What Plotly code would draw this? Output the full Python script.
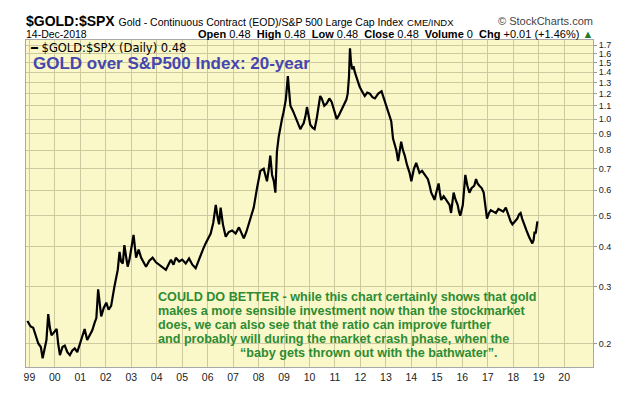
import plotly.graph_objects as go
import math

# ---- data ----
years = [
    1998.92, 1999.05, 1999.15, 1999.25, 1999.35, 1999.45, 1999.52, 1999.60, 1999.67, 1999.74,
    1999.80, 1999.87, 1999.97, 2000.07, 2000.13, 2000.20, 2000.30, 2000.39, 2000.49, 2000.59,
    2000.68, 2000.78, 2000.88, 2000.98, 2001.08, 2001.17, 2001.27, 2001.37, 2001.47, 2001.56,
    2001.63, 2001.70, 2001.76, 2001.82, 2001.92, 2002.02, 2002.11, 2002.21, 2002.34, 2002.41,
    2002.47, 2002.54, 2002.60, 2002.67, 2002.73, 2002.80, 2002.86, 2002.93, 2003.00, 2003.09,
    2003.19, 2003.29, 2003.39, 2003.48, 2003.58, 2003.71, 2003.84, 2003.97, 2004.10, 2004.23,
    2004.36, 2004.46, 2004.56, 2004.66, 2004.75, 2004.88, 2005.00, 2005.14, 2005.27, 2005.40,
    2005.53, 2005.63, 2005.73, 2005.83, 2005.92, 2006.02, 2006.12, 2006.22, 2006.32, 2006.40,
    2006.45, 2006.51, 2006.60, 2006.71, 2006.83, 2006.96, 2007.10, 2007.23, 2007.32, 2007.42,
    2007.52, 2007.62, 2007.71, 2007.81, 2007.94, 2008.07, 2008.20, 2008.27, 2008.33, 2008.40,
    2008.46, 2008.53, 2008.60, 2008.66, 2008.72, 2008.79, 2008.85, 2008.92, 2008.98, 2009.07,
    2009.15, 2009.20, 2009.25, 2009.35, 2009.44, 2009.54, 2009.64, 2009.70, 2009.77, 2009.84,
    2009.90, 2009.97, 2010.03, 2010.12, 2010.20, 2010.28, 2010.35, 2010.42, 2010.48, 2010.58,
    2010.68, 2010.78, 2010.87, 2010.97, 2011.07, 2011.16, 2011.26, 2011.33, 2011.39, 2011.45,
    2011.50, 2011.55, 2011.59, 2011.63, 2011.68, 2011.73, 2011.78, 2011.85, 2011.91, 2011.97,
    2012.04, 2012.10, 2012.17, 2012.27, 2012.37, 2012.47, 2012.57, 2012.70, 2012.83, 2012.92,
    2013.02, 2013.11, 2013.21, 2013.28, 2013.35, 2013.41, 2013.48, 2013.54, 2013.60, 2013.67,
    2013.74, 2013.83, 2013.93, 2014.00, 2014.10, 2014.19, 2014.25, 2014.32, 2014.42, 2014.52,
    2014.65, 2014.72, 2014.78, 2014.85, 2014.91, 2015.00, 2015.07, 2015.12, 2015.17, 2015.27,
    2015.36, 2015.43, 2015.50, 2015.56, 2015.61, 2015.66, 2015.74, 2015.82, 2015.87, 2015.92,
    2016.02, 2016.07, 2016.12, 2016.20, 2016.28, 2016.37, 2016.47, 2016.54, 2016.60, 2016.67,
    2016.76, 2016.84, 2016.91, 2016.97, 2017.05, 2017.12, 2017.22, 2017.32, 2017.42, 2017.51,
    2017.61, 2017.71, 2017.78, 2017.84, 2017.90, 2017.97, 2018.07, 2018.16, 2018.23, 2018.29,
    2018.35, 2018.42, 2018.52, 2018.62, 2018.69, 2018.75, 2018.80, 2018.84, 2018.88, 2018.92,
    2018.95,
]
ratio = [
    0.235, 0.226, 0.224, 0.212, 0.200, 0.195, 0.180, 0.193, 0.205, 0.247,
    0.225, 0.212, 0.218, 0.222, 0.200, 0.184, 0.195, 0.197, 0.188, 0.184,
    0.190, 0.193, 0.188, 0.200, 0.210, 0.222, 0.205, 0.212, 0.220, 0.232,
    0.240, 0.295, 0.262, 0.243, 0.258, 0.268, 0.255, 0.262, 0.301, 0.320,
    0.339, 0.386, 0.360, 0.355, 0.405, 0.372, 0.347, 0.365, 0.390, 0.436,
    0.370, 0.392, 0.370, 0.360, 0.347, 0.362, 0.370, 0.358, 0.352, 0.345,
    0.339, 0.352, 0.365, 0.352, 0.370, 0.360, 0.365, 0.355, 0.368, 0.352,
    0.343, 0.360, 0.380, 0.395, 0.410, 0.425, 0.440, 0.475, 0.540, 0.490,
    0.470, 0.530, 0.470, 0.430, 0.445, 0.450, 0.440, 0.460, 0.440, 0.425,
    0.445, 0.470, 0.500, 0.530, 0.610, 0.690, 0.700, 0.660, 0.640, 0.700,
    0.770, 0.670, 0.640, 0.590, 0.790, 0.880, 0.950, 1.000, 1.050, 1.150,
    1.360, 1.200, 1.100, 1.060, 1.020, 0.980, 0.930, 0.950, 0.970, 1.020,
    1.090, 1.020, 0.960, 0.940, 0.930, 1.000, 1.100, 1.180, 1.160, 1.100,
    1.120, 1.160, 1.130, 1.060, 1.000, 1.030, 1.070, 1.100, 1.130, 1.150,
    1.200, 1.350, 1.660, 1.500, 1.430, 1.460, 1.400, 1.340, 1.300, 1.260,
    1.230, 1.200, 1.180, 1.210, 1.200, 1.170, 1.160, 1.200, 1.220, 1.160,
    1.100, 1.050, 0.985, 0.870, 0.830, 0.800, 0.740, 0.800, 0.850, 0.800,
    0.770, 0.720, 0.680, 0.640, 0.700, 0.730, 0.700, 0.680, 0.690, 0.670,
    0.650, 0.620, 0.590, 0.575, 0.560, 0.600, 0.630, 0.590, 0.560, 0.575,
    0.560, 0.550, 0.540, 0.510, 0.540, 0.590, 0.560, 0.540, 0.515, 0.500,
    0.540, 0.600, 0.670, 0.620, 0.590, 0.610, 0.620, 0.650, 0.630, 0.620,
    0.610, 0.590, 0.530, 0.490, 0.510, 0.520, 0.515, 0.510, 0.525, 0.520,
    0.515, 0.530, 0.510, 0.490, 0.480, 0.470, 0.480, 0.490, 0.505, 0.510,
    0.490, 0.470, 0.450, 0.430, 0.420, 0.410, 0.420, 0.446, 0.440, 0.465,
    0.480,
]
x_tickvals = list(range(1999, 2021))
x_ticktext = ["99", "00", "01", "02", "03", "04", "05", "06", "07", "08", "09",
              "10", "11", "12", "13", "14", "15", "16", "17", "18", "19", "20"]
y_tickvals = [0.2, 0.3, 0.4, 0.5, 0.6, 0.7, 0.8, 0.9, 1.0, 1.1, 1.2, 1.3, 1.4, 1.5, 1.6, 1.7]
y_ticktext = ["0.2", "0.3", "0.4", "0.5", "0.6", "0.7", "0.8", "0.9", "1.0",
              "1.1", "1.2", "1.3", "1.4", "1.5", "1.6", "1.7"]

title_symbol = "$GOLD:$SPX"
title_desc = "Gold - Continuous Contract (EOD)/S&P 500 Large Cap Index"
title_exch = "CME/INDX"
date_label = "14-Dec-2018"
legend_label = "━ $GOLD:$SPX (Daily) 0.48"
chart_heading = "GOLD over S&P500 Index: 20-year"
comment_lines = [
    "COULD DO BETTER - while this chart certainly shows that gold",
    "makes a more sensible investment now than the stockmarket",
    "does, we can also see that the ratio can improve further",
    "and probably will during the market crash phase, when the",
    "“baby gets thrown out with the bathwater”.",
]

# ---- geometry ----
W, H = 623, 395
L, R, T, B = 26, 596, 40, 372


def px(xp):
    return (xp - L) / (R - L)


def py(yp):
    return (B - yp) / (B - T)


y_lo = math.log10(0.169)
y_hi = y_lo + (B - T) / 326.0

fig = go.Figure()
fig.add_trace(go.Scatter(x=years, y=ratio, mode="lines",
                         line=dict(color="black", width=2.2), hoverinfo="skip"))

grid = "#CDC9A0"
fig.update_layout(
    width=W, height=H,
    margin=dict(l=L, r=W - R, t=T, b=H - B, pad=0),
    paper_bgcolor="white", plot_bgcolor="#FAF7C8",
    showlegend=False,
    font=dict(family="Liberation Sans, Arial, sans-serif", color="#111"),
    xaxis=dict(range=[1998.867, 2021.133], tickmode="array", tickvals=x_tickvals,
               ticktext=x_ticktext, showgrid=True, gridcolor=grid, gridwidth=1,
               zeroline=False, showline=True, linecolor="#A8A8A8", mirror=True,
               ticks="", tickfont=dict(size=10.5, color="#222")),
    yaxis=dict(type="log", range=[y_lo, y_hi], side="right", tickmode="array",
               tickvals=y_tickvals, ticktext=y_ticktext, showgrid=True, gridcolor=grid,
               gridwidth=1, zeroline=False, showline=True, linecolor="#A8A8A8", mirror=True,
               ticks="outside", ticklen=3, tickcolor="#999",
               tickfont=dict(size=9, color="#222")),
)

ann = []
ann.append(dict(x=px(24), y=py(21), xref="paper", yref="paper", xanchor="left", yanchor="middle",
                showarrow=False,
                text=f"<b>{title_symbol}</b> <span style='font-size:10.5px'>{title_desc}</span> "
                     f"<span style='font-size:9.5px'>{title_exch}</span>",
                font=dict(size=14, color="black")))
ann.append(dict(x=px(598), y=py(21), xref="paper", yref="paper", xanchor="right", yanchor="middle",
                showarrow=False, text="© StockCharts.com",
                font=dict(size=11, color="#444")))
ann.append(dict(x=px(24), y=py(34), xref="paper", yref="paper", xanchor="left", yanchor="middle",
                showarrow=False, text=date_label, font=dict(size=10.5, color="black")))
ann.append(dict(x=px(598), y=py(34), xref="paper", yref="paper", xanchor="right", yanchor="middle",
                showarrow=False,
                text="<b>Open</b> 0.48  <b>High</b> 0.48  <b>Low</b> 0.48  <b>Close</b> 0.48  "
                     "<b>Volume</b> 0  <b>Chg</b> +0.01 (+1.46%) <span style='color:#2A7A2A'>▲</span>",
                font=dict(size=11, color="black")))
ann.append(dict(x=px(28), y=py(48), xref="paper", yref="paper", xanchor="left", yanchor="middle",
                showarrow=False, text=legend_label,
                font=dict(family="DejaVu Sans, sans-serif", size=11.5, color="black")))
ann.append(dict(x=px(31), y=py(64), xref="paper", yref="paper", xanchor="left", yanchor="middle",
                showarrow=False, text=f"<b>{chart_heading}</b>",
                font=dict(size=17, color="#4646B0")))
line_y = [301.2, 315.3, 329.4, 343.5, 358.0]
for i, s in enumerate(comment_lines):
    last = i == len(comment_lines) - 1
    ann.append(dict(x=px(370) if last else px(158), y=py(line_y[i]), xref="paper", yref="paper",
                    xanchor="center" if last else "left", yanchor="middle", showarrow=False,
                    borderpad=0,
                    text=f"<b>{s}</b>", font=dict(size=12.6, color="#2D8C33")))
fig.update_layout(annotations=ann)

fig.write_html("out.html", config={"displayModeBar": False},
               post_script="document.body.style.margin='0';")
